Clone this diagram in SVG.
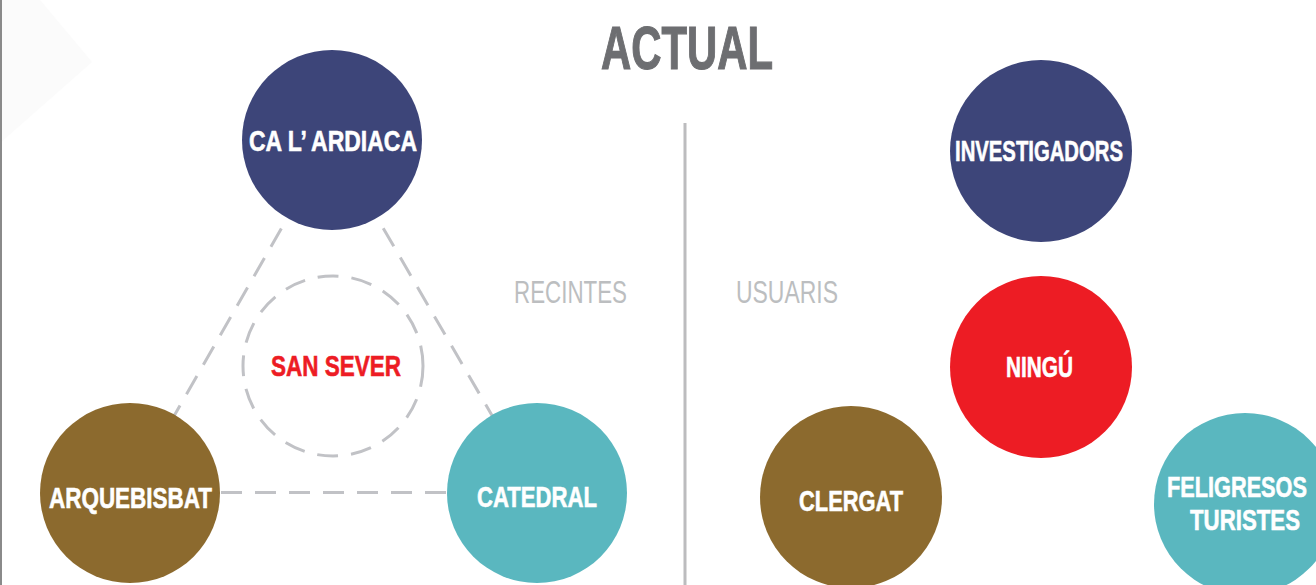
<svg xmlns="http://www.w3.org/2000/svg" width="1316" height="585" viewBox="0 0 1316 585">
<style>
.lbl{font-family:"Liberation Sans",Arial,sans-serif;font-weight:bold;font-size:29px;fill:#ffffff;stroke:#ffffff;stroke-width:0.6}
.sec{font-family:"Liberation Sans",Arial,sans-serif;font-size:31px;fill:#bcbec0}
.dash{stroke:#c1c2c6;stroke-width:3;fill:none;stroke-dasharray:21 13}
.navy{fill:#3d4579}
.brown{fill:#8c6a2e}
.teal{fill:#5ab7bf}
.red{fill:#ed1c24}
</style>
<rect x="0" y="0" width="1316" height="585" fill="#ffffff"/>
<polygon points="0,0 40,0 92,62 0,143" fill="#fbfbfb"/>
<line x1="1" y1="0" x2="1" y2="585" stroke="#8a8a8a" stroke-width="2"/>
<line x1="685" y1="123" x2="685" y2="585" stroke="#bcbcbe" stroke-width="3"/>
<text x="601" y="69" font-family="'Liberation Sans',Arial,sans-serif" font-weight="bold" font-size="61" fill="#6d6e71" stroke="#6d6e71" stroke-width="1.2" textLength="172" lengthAdjust="spacingAndGlyphs">ACTUAL</text>
<text class="sec" x="514" y="303" textLength="113" lengthAdjust="spacingAndGlyphs">RECINTES</text>
<text class="sec" x="736" y="303" textLength="102" lengthAdjust="spacingAndGlyphs">USUARIS</text>
<g id="connectors">
<line class="dash" x1="332" y1="140" x2="130" y2="493"/>
<line class="dash" x1="332" y1="140" x2="537" y2="493"/>
<line class="dash" x1="221" y1="492.5" x2="447" y2="492.5"/>
</g>
<g id="san-sever">
<circle class="dash" cx="333" cy="366" r="90" stroke-dasharray="21 12.6"/>
<text x="271" y="376" font-family="'Liberation Sans',Arial,sans-serif" font-weight="bold" font-size="30" fill="#ed1c24" stroke="#ed1c24" stroke-width="0.6" textLength="130" lengthAdjust="spacingAndGlyphs">SAN SEVER</text>
</g>
<g id="ca-lardiaca">
<circle class="navy" cx="332" cy="140" r="90"/>
<text class="lbl" x="249" y="151" textLength="168" lengthAdjust="spacingAndGlyphs">CA L’ ARDIACA</text>
</g>
<g id="arquebisbat">
<circle class="brown" cx="130" cy="493" r="90"/>
<text class="lbl" x="49" y="508" textLength="163" lengthAdjust="spacingAndGlyphs">ARQUEBISBAT</text>
</g>
<g id="catedral">
<circle class="teal" cx="537" cy="493" r="90"/>
<text class="lbl" x="477" y="507" textLength="120" lengthAdjust="spacingAndGlyphs">CATEDRAL</text>
</g>
<g id="investigadors">
<circle class="navy" cx="1041" cy="151" r="91"/>
<text class="lbl" x="955" y="161" textLength="168" lengthAdjust="spacingAndGlyphs">INVESTIGADORS</text>
</g>
<g id="ningu">
<circle class="red" cx="1041" cy="367" r="91"/>
<text class="lbl" x="1006" y="377" textLength="67" lengthAdjust="spacingAndGlyphs">NINGÚ</text>
</g>
<g id="clergat">
<circle class="brown" cx="851" cy="497" r="91"/>
<text class="lbl" x="799" y="511" textLength="104" lengthAdjust="spacingAndGlyphs">CLERGAT</text>
</g>
<g id="feligresos-turistes">
<circle class="teal" cx="1245" cy="504" r="91"/>
<text class="lbl" x="1167" y="497" textLength="140" lengthAdjust="spacingAndGlyphs">FELIGRESOS</text>
<text class="lbl" x="1190" y="530" textLength="110" lengthAdjust="spacingAndGlyphs">TURISTES</text>
</g>
</svg>
